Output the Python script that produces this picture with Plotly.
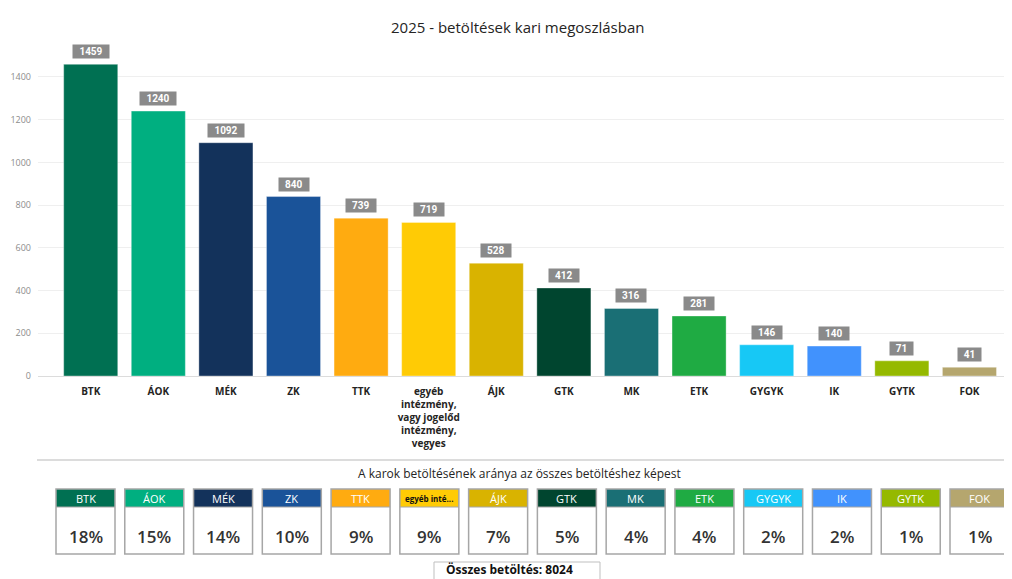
import plotly.graph_objects as go

categories = ["BTK", "ÁOK", "MÉK", "ZK", "TTK", "egyéb intézmény, vagy jogelőd intézmény, vegyes",
              "ÁJK", "GTK", "MK", "ETK", "GYGYK", "IK", "GYTK", "FOK"]
tick_labels = ["BTK", "ÁOK", "MÉK", "ZK", "TTK", "egyéb<br>intézmény,<br>vagy jogelőd<br>intézmény,<br>vegyes",
               "ÁJK", "GTK", "MK", "ETK", "GYGYK", "IK", "GYTK", "FOK"]
values = [1459, 1240, 1092, 840, 739, 719, 528, 412, 316, 281, 146, 140, 71, 41]
colors = ["#007052", "#00af80", "#13325b", "#1a5399", "#ffab10", "#ffcb05", "#d9b300",
          "#00452f", "#1a6f75", "#1fab43", "#17c8f5", "#4192fd", "#95b900", "#b5a66e"]
card_labels = ["BTK", "ÁOK", "MÉK", "ZK", "TTK", "egyéb inté...", "ÁJK", "GTK", "MK", "ETK",
               "GYGYK", "IK", "GYTK", "FOK"]
percents = ["18%", "15%", "14%", "10%", "9%", "9%", "7%", "5%", "4%", "4%", "2%", "2%", "1%", "1%"]
y_ticks = [0, 200, 400, 600, 800, 1000, 1200, 1400]
total_text = "Összes betöltés: 8024"
title_text = "2025 - betöltések kari megoszlásban"
subtitle_text = "A karok betöltésének aránya az összes betöltéshez képest"

OFF = 8  # page body margin
W, H = 1012 - OFF, 579 - OFF
ML, MR, MT = 38 - OFF, 2, 50 - OFF
PLOT_BOTTOM = 376 - OFF
MB = H - PLOT_BOTTOM
PW = W - ML - MR
PH = H - MT - MB


def px(x):
    # reference pixel x -> paper
    return (x - OFF - ML) / PW


def py(y):
    # reference pixel y -> paper
    return (PLOT_BOTTOM - (y - OFF)) / PH


FONT = "Open Sans, Noto Sans, sans-serif"

fig = go.Figure()
fig.add_trace(go.Bar(
    x=list(range(len(categories))),
    y=values,
    marker=dict(color=colors, line=dict(color="rgba(255,255,255,0.35)", width=1)),
    width=0.8,
    hovertext=categories,
    showlegend=False,
))

annotations = []
# data labels
for i, v in enumerate(values):
    n = len(str(v))
    annotations.append(dict(
        x=i, y=v, xref="x", yref="y", text="<b>%d</b>" % v, showarrow=False,
        yanchor="bottom", yshift=5, bgcolor="#8a8a8a", borderpad=1,
        width=8 + 6.5 * n, height=11,
        font=dict(family="Roboto, sans-serif", size=10, color="white"),
    ))

# title
annotations.append(dict(x=px(517), y=py(27), xref="paper", yref="paper", text=title_text,
                        showarrow=False, xanchor="center", yanchor="middle",
                        font=dict(family=FONT, size=15, color="#252423")))
# subtitle
annotations.append(dict(x=px(519), y=py(473), xref="paper", yref="paper", text=subtitle_text,
                        showarrow=False, xanchor="center", yanchor="middle",
                        font=dict(family=FONT, size=12, color="#252423")))

shapes = []
# separator line
shapes.append(dict(type="line", xref="paper", yref="paper", x0=px(37), x1=px(1012),
                   y0=py(460), y1=py(460), line=dict(color="#dcdcdc", width=2)))

# cards
step = 68.77
cw = 59
for i, lab in enumerate(card_labels):
    x0 = 56 + i * step
    x1 = x0 + cw
    shapes.append(dict(type="rect", xref="paper", yref="paper", x0=px(x0), x1=px(x1),
                       y0=py(507), y1=py(489), fillcolor=colors[i], line=dict(width=0)))
    shapes.append(dict(type="rect", xref="paper", yref="paper", x0=px(x0), x1=px(x1),
                       y0=py(554), y1=py(489), fillcolor="rgba(0,0,0,0)",
                       line=dict(color="#a6a6a6", width=1.5)))
    shapes.append(dict(type="line", xref="paper", yref="paper", x0=px(x0), x1=px(x1),
                       y0=py(507), y1=py(507), line=dict(color="#a6a6a6", width=1)))
    if lab.startswith("egyéb"):
        hfont = dict(family=FONT, size=8, color="#111111", weight="bold")
    else:
        hfont = dict(family=FONT, size=11, color="white")
    annotations.append(dict(x=px((x0 + x1) / 2), y=py(498), xref="paper", yref="paper", text=lab,
                            showarrow=False, xanchor="center", yanchor="middle", font=hfont))
    annotations.append(dict(x=px((x0 + x1) / 2), y=py(536), xref="paper", yref="paper",
                            text=percents[i], showarrow=False, xanchor="center", yanchor="middle",
                            font=dict(family=FONT, size=17, color="#333333", weight=600)))

# total box
shapes.append(dict(type="rect", xref="paper", yref="paper", x0=px(434), x1=px(600),
                   y0=py(590), y1=py(562), fillcolor="white", line=dict(color="#bfbfbf", width=1)))
annotations.append(dict(x=px(444), y=py(569.5), xref="paper", yref="paper", text="<b>" + total_text + "</b>",
                        showarrow=False, xanchor="left", yanchor="middle",
                        font=dict(family=FONT, size=12, color="#111111")))

fig.update_layout(
    width=W, height=H,
    margin=dict(l=ML, r=MR, t=MT, b=MB, pad=0),
    paper_bgcolor="white", plot_bgcolor="white",
    bargap=0.2,
    annotations=annotations,
    shapes=shapes,
    font=dict(family=FONT),
    xaxis=dict(
        range=[-0.78, 13.6],
        tickmode="array", tickvals=list(range(len(categories))), ticktext=tick_labels,
        tickfont=dict(family=FONT, size=10, color="#252423", weight="bold"),
        ticks="outside", ticklen=6, tickcolor="rgba(0,0,0,0)",
        showgrid=False, showline=False, zeroline=False, fixedrange=True,
    ),
    yaxis=dict(
        range=[0, 1526],
        tickmode="array", tickvals=y_ticks,
        tickfont=dict(family=FONT, size=9, color="#8c8c8c"),
        showgrid=True, gridcolor="#efefef", gridwidth=1,
        zeroline=True, zerolinecolor="#dcdcdc", zerolinewidth=1,
        ticklabelstandoff=6,
        showline=False, fixedrange=True,
    ),
)
fig.update_traces(cliponaxis=False)

fig.write_html("out.html")
